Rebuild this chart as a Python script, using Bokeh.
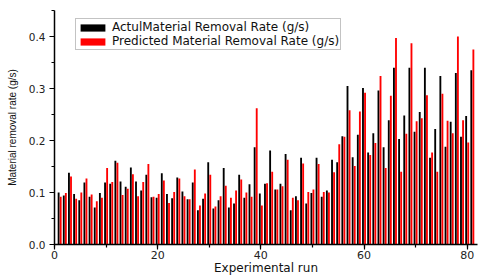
from bokeh.plotting import figure
from bokeh.models import Range1d, SingleIntervalTicker, PrintfTickFormatter, Legend, LegendItem, ColumnDataSource
from bokeh.transform import dodge
from bokeh.embed import file_html
from bokeh.resources import INLINE

runs = list(range(1, 82))
actual = [0.100, 0.094, 0.138, 0.097, 0.085, 0.119, 0.092, 0.071, 0.099, 0.119,
          0.117, 0.161, 0.121, 0.111, 0.148, 0.121, 0.104, 0.134, 0.091, 0.090,
          0.137, 0.097, 0.089, 0.129, 0.102, 0.087, 0.119, 0.066, 0.088, 0.158,
          0.069, 0.085, 0.147, 0.071, 0.079, 0.134, 0.090, 0.116, 0.187, 0.098,
          0.117, 0.181, 0.106, 0.117, 0.174, 0.066, 0.093, 0.167, 0.079, 0.099,
          0.167, 0.092, 0.104, 0.163, 0.158, 0.208, 0.305, 0.168, 0.211, 0.301,
          0.177, 0.214, 0.296, 0.187, 0.239, 0.340, 0.203, 0.248, 0.340, 0.217,
          0.255, 0.340, 0.167, 0.222, 0.324, 0.188, 0.236, 0.330, 0.207, 0.247, 0.335]
predicted = [0.092, 0.099, 0.131, 0.088, 0.100, 0.127, 0.096, 0.083, 0.090, 0.147,
             0.120, 0.157, 0.095, 0.107, 0.135, 0.093, 0.120, 0.155, 0.092, 0.097,
             0.123, 0.080, 0.101, 0.127, 0.093, 0.087, 0.144, 0.075, 0.098, 0.134,
             0.073, 0.093, 0.113, 0.090, 0.104, 0.125, 0.100, 0.092, 0.262, 0.075,
             0.118, 0.140, 0.106, 0.112, 0.163, 0.090, 0.085, 0.156, 0.101, 0.106,
             0.155, 0.101, 0.100, 0.139, 0.193, 0.207, 0.258, 0.151, 0.256, 0.292,
             0.172, 0.195, 0.324, 0.147, 0.286, 0.397, 0.140, 0.213, 0.387, 0.237,
             0.243, 0.287, 0.177, 0.140, 0.290, 0.238, 0.214, 0.400, 0.239, 0.196, 0.375]

series_names = ["ActulMaterial Removal Rate (g/s)", "Predicted Material Removal Rate (g/s)"]
x_label = "Experimental run"
y_label = "Material removal rate (g/s)"

src = ColumnDataSource(dict(run=runs, actual=actual, predicted=predicted))

WIDE = "DejaVu Sans"
NARROW = "Liberation Sans"

p = figure(width=480, height=277, output_backend="svg", toolbar_location=None,
           x_range=Range1d(0, 82), y_range=Range1d(0, 0.45),
           min_border_left=54, min_border_right=3, min_border_top=10, min_border_bottom=32)
p.outline_line_color = None
p.xgrid.visible = False
p.ygrid.visible = False

r1 = p.vbar(x=dodge("run", -0.2, range=p.x_range), top="actual", width=0.36, source=src,
            fill_color="#000000", line_color=None)
r2 = p.vbar(x=dodge("run", 0.2, range=p.x_range), top="predicted", width=0.36, source=src,
            fill_color="#ff0000", line_color=None)

p.xaxis.ticker = SingleIntervalTicker(interval=20, num_minor_ticks=2)
p.yaxis.ticker = SingleIntervalTicker(interval=0.1, num_minor_ticks=2)
p.yaxis.formatter = PrintfTickFormatter(format="%.1f")

for ax in (p.xaxis[0], p.yaxis[0]):
    ax.axis_line_color = "#000000"
    ax.axis_line_width = 1.5
    ax.major_tick_line_color = "#000000"
    ax.minor_tick_line_color = "#000000"
    ax.major_tick_line_width = 1.2
    ax.minor_tick_line_width = 1.2
    ax.major_tick_in = 0
    ax.major_tick_out = 5
    ax.minor_tick_in = 0
    ax.minor_tick_out = 3
    ax.major_label_text_font = WIDE
    ax.major_label_text_color = "#222222"
    ax.axis_label_text_font_style = "normal"
    ax.axis_label_text_color = "#111111"

p.xaxis.major_label_text_font_size = "11px"
p.xaxis.major_label_standoff = 1
p.xaxis.axis_label = x_label
p.xaxis.axis_label_text_font = WIDE
p.xaxis.axis_label_text_font_size = "12px"
p.xaxis.axis_label_standoff = -1

p.yaxis.major_label_text_font_size = "10.5px"
p.yaxis.major_label_standoff = 4
p.yaxis.axis_label = y_label
p.yaxis.axis_label_text_font = NARROW
p.yaxis.axis_label_text_font_size = "10px"
p.yaxis.axis_label_standoff = 8

legend = Legend(items=[LegendItem(label=series_names[0], renderers=[r1]),
                       LegendItem(label=series_names[1], renderers=[r2])],
                location=(21, 194), orientation="vertical",
                label_text_font=WIDE, label_text_font_size="12px", label_text_color="#111111",
                glyph_width=31, glyph_height=9, label_height=10, label_standoff=4,
                spacing=-3, padding=1, margin=0,
                border_line_color="#888888", border_line_width=1,
                background_fill_alpha=1.0)
p.add_layout(legend)

open("out.html", "w").write(file_html(p, INLINE))
